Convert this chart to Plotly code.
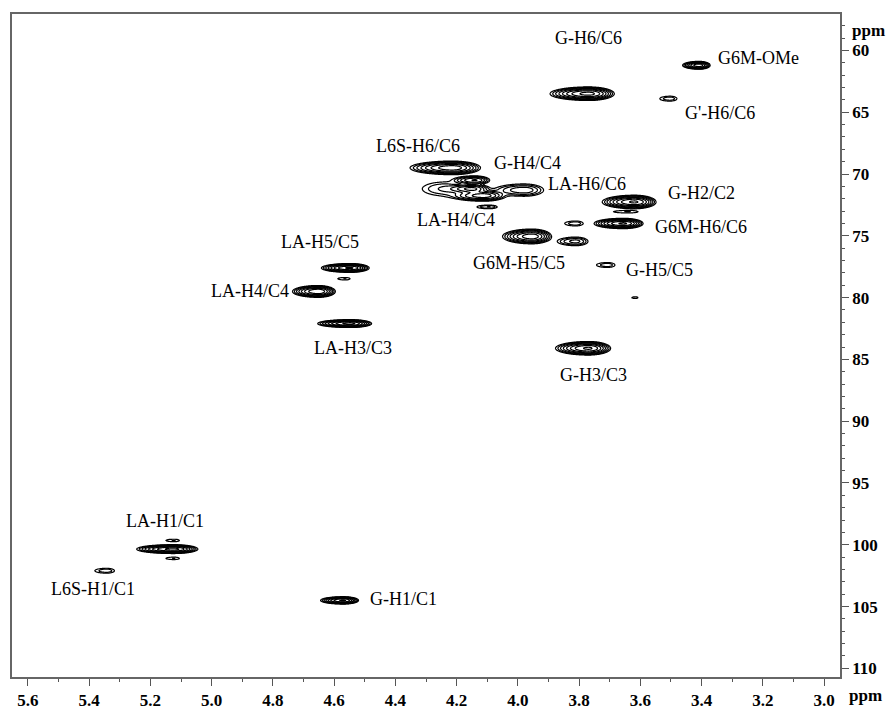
import numpy as np
import plotly.graph_objects as go

# ---------------- data ----------------
# cross peaks: 1H shift, 13C shift, outer-contour half widths (ppm), relative intensity
peak_h   = [3.408, 3.503, 3.769, 4.214, 4.140, 4.150, 4.112, 3.980, 4.240, 4.094,
            3.619, 3.640, 3.655, 3.811, 3.954, 3.811, 3.707, 3.616, 3.769,
            4.548, 4.564, 4.652, 4.548, 5.125, 5.123, 5.123, 5.343, 4.570]
peak_c   = [61.2, 63.9, 63.5, 69.5, 70.5, 71.2, 71.75, 71.3, 71.2, 72.66,
            72.26, 73.05, 74.0, 74.0, 75.05, 75.45, 77.36, 80.0, 84.1,
            77.6, 78.47, 79.5, 82.1, 100.35, 99.65, 101.1, 102.1, 104.5]
peak_wh  = [0.045, 0.028, 0.105, 0.115, 0.060, 0.070, 0.090, 0.080, 0.060, 0.033,
            0.088, 0.040, 0.080, 0.030, 0.080, 0.050, 0.030, 0.010, 0.090,
            0.078, 0.020, 0.070, 0.088, 0.100, 0.022, 0.022, 0.032, 0.062]
peak_wc  = [0.32, 0.20, 0.55, 0.55, 0.35, 0.40, 0.45, 0.50, 0.55, 0.15,
            0.55, 0.10, 0.42, 0.20, 0.60, 0.35, 0.20, 0.07, 0.55,
            0.36, 0.10, 0.48, 0.32, 0.36, 0.10, 0.10, 0.20, 0.30]
peak_amp = [0.70, 0.05, 1.00, 0.70, 0.30, 0.35, 0.40, 0.15, 0.06, 0.06,
            0.90, 0.035, 0.90, 0.05, 0.70, 0.12, 0.05, 0.03, 0.90,
            0.90, 0.035, 0.80, 1.00, 1.00, 0.035, 0.035, 0.05, 0.90]

# assignment labels: text, 1H, 13C, anchor
label_text = ["G6M-OMe", "G-H6/C6", "G'-H6/C6", "L6S-H6/C6", "G-H4/C4", "LA-H6/C6",
              "G-H2/C2", "LA-H4/C4", "G6M-H6/C6", "G6M-H5/C5", "G-H5/C5",
              "LA-H5/C5", "LA-H4/C4", "LA-H3/C3", "G-H3/C3", "LA-H1/C1",
              "L6S-H1/C1", "G-H1/C1"]
label_h = [3.353, 3.769, 3.460, 4.327, 3.967, 3.775,
           3.516, 4.201, 3.558, 3.996, 3.655,
           4.645, 4.876, 4.538, 3.753, 5.152,
           5.386, 4.490]
label_c = [60.6, 59.0, 65.1, 67.7, 69.1, 70.8,
           71.5, 73.7, 74.3, 77.2, 77.8,
           75.5, 79.5, 84.05, 86.3, 98.1,
           103.55, 104.4]
label_anchor = ["left", "center", "left", "center", "center", "center",
                "left", "center", "left", "center", "left",
                "center", "center", "center", "center", "center",
                "center", "left"]

x_ticks = [5.6, 5.4, 5.2, 5.0, 4.8, 4.6, 4.4, 4.2, 4.0, 3.8, 3.6, 3.4, 3.2, 3.0]
y_ticks = [60, 65, 70, 75, 80, 85, 90, 95, 100, 105, 110]

# ---------------- model spectrum ----------------
L0 = 0.02          # lowest contour level (relative)
RATIO = 1.7        # contour level ratio
ASYM_L, ASYM_R = 1.2, 0.8

ph = np.array(peak_h); pc = np.array(peak_c)
amp = np.array(peak_amp)
fac = np.sqrt(2 * np.log(amp / L0))
sh = np.array(peak_wh) / fac
sc = np.array(peak_wc) / fac


def spectrum(X, Y):
    Z = np.zeros_like(X)
    for i in range(len(ph)):
        dx = X - ph[i]
        s = np.where(dx > 0, sh[i] * ASYM_L, sh[i] * ASYM_R)
        Z += amp[i] * np.exp(-0.5 * (dx / s) ** 2 - 0.5 * ((Y - pc[i]) / sc[i]) ** 2)
    return Z

# group overlapping peaks into clusters (boxes)
boxes = []
for i in range(len(ph)):
    boxes.append([ph[i] - 2.2 * peak_wh[i] * ASYM_R, ph[i] + 2.2 * peak_wh[i] * ASYM_L + 0.01,
                  pc[i] - 2.0 * peak_wc[i], pc[i] + 2.0 * peak_wc[i]])
merged = True
while merged:
    merged = False
    out = []
    for b in boxes:
        for o in out:
            if not (b[1] < o[0] or b[0] > o[1] or b[3] < o[2] or b[2] > o[3]):
                o[0] = min(o[0], b[0]); o[1] = max(o[1], b[1])
                o[2] = min(o[2], b[2]); o[3] = max(o[3], b[3])
                merged = True
                break
        else:
            out.append(list(b))
    boxes = out

fig = go.Figure()
DX, DY = 0.002, 0.04
for b in boxes:
    xs = np.arange(b[0], b[1] + DX, DX)
    ys = np.arange(b[2], b[3] + DY, DY)
    X, Y = np.meshgrid(xs, ys)
    Z = np.log(spectrum(X, Y) + 1e-9)
    fig.add_trace(go.Contour(
        x=xs, y=ys, z=Z.astype(np.float32),
        autocontour=False,
        contours=dict(start=np.log(L0), end=0.2, size=np.log(RATIO), coloring="lines"),
        colorscale=[[0, "black"], [1, "black"]],
        line=dict(width=1.2, smoothing=1),
        showscale=False, hoverinfo="skip"))

for t, x, y, a in zip(label_text, label_h, label_c, label_anchor):
    fig.add_annotation(x=x, y=y, text=t, showarrow=False, xanchor=a, yanchor="middle",
                       font=dict(family="Liberation Serif", size=18, color="black"))

axis_font = dict(family="Liberation Serif", size=17, color="black", weight="bold")
fig.add_annotation(xref="paper", yref="paper", x=1.008, y=-0.028, text="ppm",
                   showarrow=False, xanchor="left", yanchor="middle", font=axis_font)
fig.add_annotation(xref="paper", yref="paper", x=1.012, y=0.975, text="ppm",
                   showarrow=False, xanchor="left", yanchor="middle", font=axis_font)

fig.update_layout(
    width=888, height=720,
    margin=dict(l=10, r=45, t=14, b=32),
    paper_bgcolor="white", plot_bgcolor="white",
    showlegend=False,
    xaxis=dict(range=[5.652, 2.948], tickvals=x_ticks, ticktext=[f"{v:.1f}" for v in x_ticks],
               ticks="outside", ticklen=7, tickcolor="#555", tickwidth=1.2,
               minor=dict(dtick=0.1, tick0=3.0, ticks="outside", ticklen=3, tickcolor="#555"),
               showline=True, mirror=True, linecolor="#666", linewidth=1.6,
               showgrid=False, zeroline=False, tickfont=axis_font),
    yaxis=dict(range=[110.7, 57.05], side="right", tickvals=y_ticks,
               ticks="outside", ticklen=7, tickcolor="#555", tickwidth=1.2,
               minor=dict(dtick=1, tick0=60, ticks="outside", ticklen=3, tickcolor="#555"),
               showline=True, mirror=True, linecolor="#666", linewidth=1.6,
               showgrid=False, zeroline=False, tickfont=axis_font),
)

fig.write_html("out.html")
